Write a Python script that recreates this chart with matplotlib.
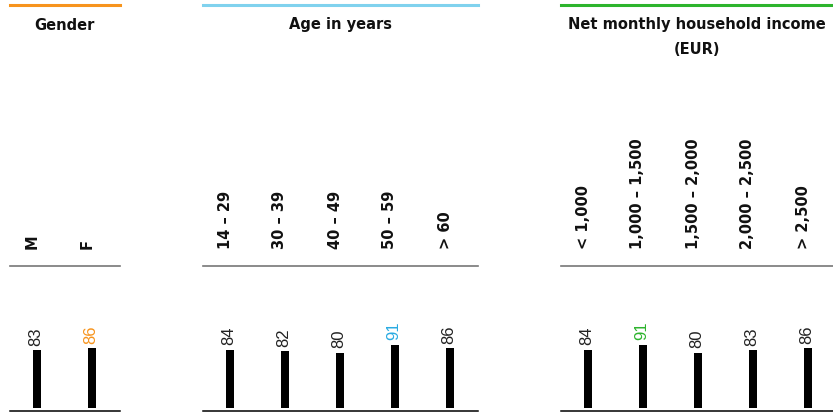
import matplotlib
matplotlib.use("Agg")
import matplotlib.pyplot as plt
from matplotlib.transforms import blended_transform_factory, ScaledTranslation

plt.rcParams['font.family'] = ['Liberation Sans', 'DejaVu Sans']

gender_labels = ["M", "F"]
gender_values = [83, 86]

age_labels = ["14 – 29", "30 – 39", "40 – 49", "50 – 59", "> 60"]
age_values = [84, 82, 80, 91, 86]

income_labels = ["< 1,000", "1,000 – 1,500", "1,500 – 2,000", "2,000 – 2,500", "> 2,500"]
income_values = [84, 91, 80, 83, 86]

# title, labels, values, accent colour, highlighted bar, left edge (px)
panels = [
    ("Gender", gender_labels, gender_values, "#f7941d", "#f7941d", 1, 9.5),
    ("Age in years", age_labels, age_values, "#80d2ee", "#29abe2", 3, 202.5),
    ("Net monthly household income\n(EUR)", income_labels, income_values, "#2db42d", "#2db42d", 1, 560.5),
]

W, H = 833, 414
STEP = 55  # px per category
fig = plt.figure(figsize=(W / 100, H / 100), dpi=100)
bold_font = dict(family="DejaVu Sans", fontweight="bold")


def fy(px):
    return 1 - px / H


for title, labels, values, line_col, hi_col, hi_idx, left in panels:
    n = len(labels)
    ax = fig.add_axes([left / W, fy(408.7), n * STEP / W, 69 / H])
    ax.set_xlim(-0.5, n - 0.5)
    ax.set_ylim(0, 100)
    ax.axis("off")

    x = list(range(n))
    ax.bar(x, values, width=0.135, color="black")

    for i, v in enumerate(values):
        ax.annotate(str(v), (i, v), xytext=(-1, 4), textcoords="offset points",
                    rotation=90, ha="center", va="bottom", fontsize=12,
                    color=hi_col if i == hi_idx else "#222222")

    # rules spanning the visible part of the panel
    right = min(left + n * STEP, W)
    x0, x1 = (left + 0.5) / W, right / W
    fig.add_artist(plt.Line2D([x0, x1], [fy(6), fy(6)], color=line_col, lw=2.2))
    fig.add_artist(plt.Line2D([x0, x1], [fy(267), fy(267)], color="#777777", lw=1.2))
    fig.add_artist(plt.Line2D([x0, x1], [fy(411.7), fy(411.7)], color="black", lw=1.1))

    fig.text((x0 + x1) / 2, fy(17.5), title, ha="center", va="top",
             fontsize=10.5, linespacing=1.8, color="#111111", **bold_font)

    trans = blended_transform_factory(ax.transData, fig.transFigure) + \
        ScaledTranslation(-5 / 100, 0, fig.dpi_scale_trans)
    for i, lab in enumerate(labels):
        ax.text(i, fy(249), lab, transform=trans, rotation=90, ha="center",
                va="bottom", fontsize=10.5, color="#111111", **bold_font)

fig.savefig("out.png", dpi=100)
